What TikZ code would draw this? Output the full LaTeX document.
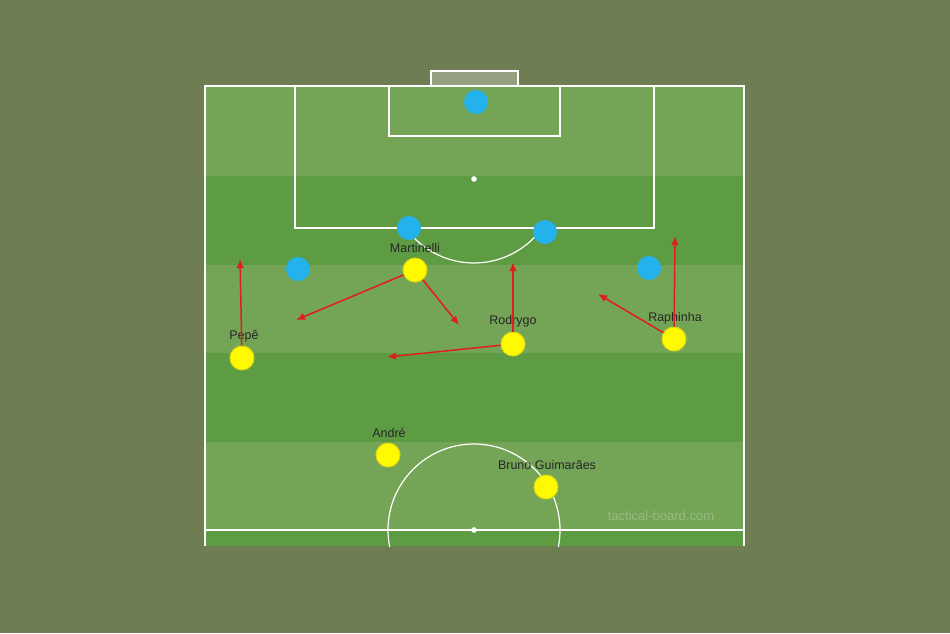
\documentclass[tikz,border=0pt]{standalone}
\usepackage{xcolor}
\usepackage{fontspec}
\setmainfont{Liberation Sans}
\usepackage{tikz}
\usetikzlibrary{shapes.geometric, arrows, arrows.meta}

\definecolor{bg}{RGB}{110,125,82}
\definecolor{grasslight}{RGB}{116,165,87}
\definecolor{grassdark}{RGB}{94,156,68}
\definecolor{opp}{RGB}{35,178,236}
\definecolor{own}{RGB}{255,250,0}
\definecolor{ownedge}{RGB}{222,214,20}
\definecolor{run}{RGB}{226,30,24}
\definecolor{goalgrey}{RGB}{150,160,128}

\tikzset{
    pitch/.style={draw=white, line width=1.2pt},
    oppdot/.style={circle, fill=opp, minimum size=24pt, inner sep=0pt},
    owndot/.style={circle, fill=own, draw=ownedge, line width=1pt, minimum size=24pt, inner sep=0pt},
    playername/.style={text=black!85, font=\fontsize{12.5}{15}\selectfont},
    runarrow/.style={draw=run, line width=1.5pt, -{Latex[length=9pt,width=7.5pt]}}
}

\begin{document}
\begin{tikzpicture}[x=1pt, y=-1pt]
        \fill[bg] (0,0) rectangle (950,633);
        \useasboundingbox (0,0) rectangle (950,633);

        % stripes
        \fill[grasslight] (205,86) rectangle (744,176);
        \fill[grassdark] (205,176) rectangle (744,265);
        \fill[grasslight] (205,265) rectangle (744,353);
        \fill[grassdark] (205,353) rectangle (744,442);
        \fill[grasslight] (205,442) rectangle (744,531);
        \fill[grassdark] (205,531) rectangle (744,546);

        % lines
        \fill[goalgrey, draw=white, line width=1.2pt] (431,86) -- (431,71) -- (518,71) -- (518,86);
        \draw[pitch] (205,546) -- (205,86) -- (744,86) -- (744,546);
        \draw[pitch] (205,530) -- (744,530);
        \draw[pitch] (295,86) -- (295,228) -- (654,228) -- (654,86);
        \draw[pitch] (389,86) -- (389,136) -- (560,136) -- (560,86);
        \begin{scope}
            \clip (205,228) rectangle (744,400);
            \draw[pitch] (474,179) ++(37:84) arc (37:143:84);
        \end{scope}
        \begin{scope}
            \clip (205,86) rectangle (744,546);
            \draw[pitch] (474,530) circle (86);
        \end{scope}
        \fill[white] (474,179) circle (2.8);
        \fill[white] (474,530) circle (2.8);

        \node[text=grasslight!75!white, font=\fontsize{13}{15}\selectfont] (site) at (661,516) {tactical-board.com};

        % blue side
        \node[oppdot] (gk) at (476,102) {};
        \node[oppdot] (b1) at (409,228) {};
        \node[oppdot] (b2) at (545,232) {};
        \node[oppdot] (b3) at (298,269) {};
        \node[oppdot] (b4) at (649,268) {};

        % yellow side
        \node[owndot] (Martinelli) at (415,270) {};
        \node[owndot] (Pepe) at (242,358) {};
        \node[owndot] (Rodrygo) at (513,344) {};
        \node[owndot] (Raphinha) at (674,339) {};
        \node[owndot] (Andre) at (388,455) {};
        \node[owndot] (Bruno) at (546,487) {};

        \node[playername] (Martinelli-n) at (415,248) {Martinelli};
        \node[playername] (Pepe-n) at (244,336) {Pepê};
        \node[playername] (Rodrygo-n) at (513,321) {Rodrygo};
        \node[playername] (Raphinha-n) at (675,318) {Raphinha};
        \node[playername] (Andre-n) at (389,433) {André};
        \node[playername] (Bruno-n) at (547,465) {Bruno Guimarães};

        % runs
        \coordinate (pepe-up) at (240,259);
        \coordinate (mart-left) at (296,320);
        \coordinate (mart-right) at (459,325);
        \coordinate (rod-up) at (513,262);
        \coordinate (rod-left) at (387,357);
        \coordinate (raph-up) at (675,236);
        \coordinate (raph-in) at (598,294);

        \draw[runarrow] (Pepe) -- (pepe-up);
        \draw[runarrow] (Martinelli) -- (mart-left);
        \draw[runarrow] (Martinelli) -- (mart-right);
        \draw[runarrow] (Rodrygo) -- (rod-up);
        \draw[runarrow] (Rodrygo) -- (rod-left);
        \draw[runarrow] (Raphinha) -- (raph-up);
        \draw[runarrow] (Raphinha) -- (raph-in);
    \end{tikzpicture}
\end{document}
